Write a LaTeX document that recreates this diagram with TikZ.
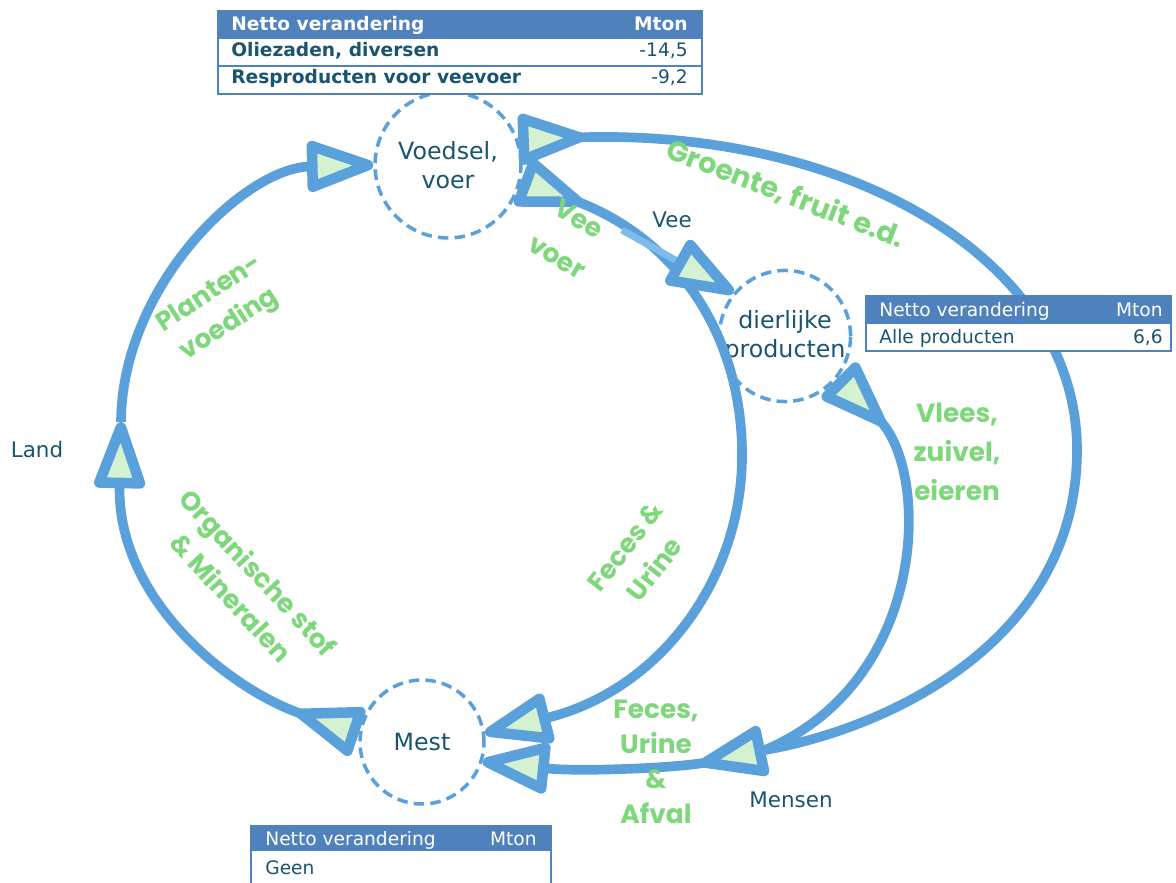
\documentclass[tikz,border=0pt]{standalone}
\usepackage{fontspec}
\setmainfont{DejaVu Sans}
\newfontfamily\gfont{Poppins}
\usetikzlibrary{arrows.meta}
\definecolor{lineblue}{HTML}{5AA0DA}
\definecolor{branchblue}{HTML}{7DBBEA}
\definecolor{tipgreen}{HTML}{D4F1D1}
\definecolor{labgreen}{HTML}{7ED87B}
\definecolor{darktxt}{HTML}{1A5470}
\definecolor{hdrblue}{HTML}{4F81BD}
\tikzset{
  tipE/.tip={Triangle[length=44pt,width=30pt,fill=tipgreen,round,line width=6pt]},
  tipS/.tip={Triangle[reversed,length=44pt,width=30pt,fill=tipgreen,round,line width=6pt]},
  tipB/.tip={Triangle[length=44pt,width=30pt,color=lineblue,fill=tipgreen,round,line width=6pt]},
  flow/.style={draw=lineblue, line width=5.5pt},
  branch/.style={draw=branchblue, line width=4pt},
  circ/.style={circle, draw=lineblue, dash pattern=on 6pt off 3.5pt, line width=2pt, fill=white,
     align=center, text=darktxt, font=\fontsize{13.5}{16.5}\selectfont, inner sep=0pt},
  dlab/.style={text=darktxt, font=\fontsize{12.2}{16}\selectfont, inner sep=0pt, align=center},
  glab/.style={text=labgreen, font=\gfont\bfseries\fontsize{15}{21}\selectfont, inner sep=0pt, align=center},
  tbox/.style={draw=hdrblue, line width=1.2pt, fill=white, anchor=north west, inner sep=0pt},
  hbox/.style={tbox, fill=hdrblue},
  htxt/.style={text=white, font=\fontsize{10.6}{13}\selectfont, inner sep=0pt},
  rtxt/.style={text=darktxt, font=\fontsize{10.6}{13}\selectfont, inner sep=0pt},
}
\begin{document}
\begin{tikzpicture}[x=0.02cm,y=-0.02cm]
\useasboundingbox (0,0) rectangle (1176,882);
\clip (0,0) rectangle (1176,882);

% circles
\node[circ, minimum size=2.92cm] (voedsel) at (448,165) {Voedsel,\\voer};
\node[circ, minimum size=2.40cm] (dier) at (785,336) {dierlijke\\producten};
\node[circ, minimum size=2.48cm] (mest) at (422,742) {Mest};

% free points
\coordinate (landpt) at (121,422);
\coordinate (mensenpt) at (765,750);
\coordinate (vbranch) at (622,230);

% flows
\draw[flow, {tipS}-{tipE}] (mest.172) .. controls (230,690) and (117,600) .. (landpt);
\draw[flow, -{tipE}] (landpt) .. controls (122,285) and (245,168) .. (voedsel.180);
\draw[flow, {tipS}-] (voedsel.20) .. controls (850,128) and (1077,260) .. (1077,450)
      .. controls (1077,640) and (890,728) .. (mensenpt);
\draw[flow, {tipS}-] (dier.-39) .. controls (930,470) and (930,680) .. (mensenpt);
\draw[flow, {tipS}-{tipE}] (mensenpt) .. controls (680,768) and (580,772) .. (mest.-18);
\draw[flow, {tipS}-{tipE}] (voedsel.-12) .. controls (680,240) and (744,340) .. (742,460)
      .. controls (740,580) and (660,690) .. (mest.8);
\draw[branch, -{tipB}] (vbranch) -- (dier.140);

% dark labels
\node[dlab] (land) at (37,450) {Land};
\node[dlab] (vee) at (672,220) {Vee};
\node[dlab] (mensen) at (791,800) {Mensen};

% green labels
\node[glab, rotate=33] (lplant) at (220,310) {Planten-\\voeding};
\node[glab, rotate=-47] (lorg) at (245,585) {Organische stof\\\& Mineralen};
\node[glab, rotate=-30, font=\gfont\bfseries\fontsize{15}{25}\selectfont] (lvee) at (568,238) {Vee\\voer};
\node[glab, rotate=-21, font=\gfont\bfseries\fontsize{16.2}{21}\selectfont] (lgroente) at (786,194) {Groente, fruit e.d.};
\node[glab, rotate=52] (lfeces) at (640,558) {Feces \&\\Urine};
\node[glab, font=\gfont\bfseries\fontsize{15}{22}\selectfont] (lvlees) at (957,452) {Vlees,\\zuivel,\\eieren};
\node[glab, font=\gfont\bfseries\fontsize{15}{20}\selectfont] (lafval) at (656,762) {Feces,\\Urine\\\&\\Afval};

% top table
\node[hbox, minimum width=9.68cm, minimum height=0.54cm] (t1h) at (217,10) {};
\node[tbox, minimum width=9.68cm, minimum height=0.56cm] (t1a) at (217,37) {};
\node[tbox, minimum width=9.68cm, minimum height=0.56cm] (t1b) at (217,65) {};
\node[htxt, font=\bfseries\fontsize{10.6}{13}\selectfont, anchor=base west] (t1h1) at (231,31) {Netto verandering};
\node[htxt, font=\bfseries\fontsize{10.6}{13}\selectfont, anchor=base east] (t1h2) at (688,31) {Mton};
\node[rtxt, font=\bfseries\fontsize{10.6}{13}\selectfont, anchor=base west] (t1a1) at (231,57) {Oliezaden, diversen};
\node[rtxt, anchor=base east] (t1a2) at (688,57) {-14,5};
\node[rtxt, font=\bfseries\fontsize{10.6}{13}\selectfont, anchor=base west] (t1b1) at (231,84) {Resproducten voor veevoer};
\node[rtxt, anchor=base east] (t1b2) at (688,84) {-9,2};

% right table
\node[hbox, minimum width=6.10cm, minimum height=0.54cm] (t2h) at (865,295) {};
\node[tbox, minimum width=6.10cm, minimum height=0.56cm] (t2a) at (865,322) {};
\node[htxt, anchor=base west] (t2h1) at (879,316) {Netto verandering};
\node[htxt, anchor=base east] (t2h2) at (1163,316) {Mton};
\node[rtxt, anchor=base west] (t2a1) at (879,343) {Alle producten};
\node[rtxt, anchor=base east] (t2a2) at (1163,343) {6,6};

% bottom table
\node[hbox, minimum width=6.0cm, minimum height=0.48cm] (t3h) at (250,825) {};
\node[tbox, minimum width=6.0cm, minimum height=0.8cm] (t3a) at (250,849) {};
\node[htxt, anchor=base west] (t3h1) at (265,845) {Netto verandering};
\node[htxt, anchor=base east] (t3h2) at (537,845) {Mton};
\node[rtxt, anchor=base west] (t3a1) at (265,874) {Geen};
\end{tikzpicture}
\end{document}
